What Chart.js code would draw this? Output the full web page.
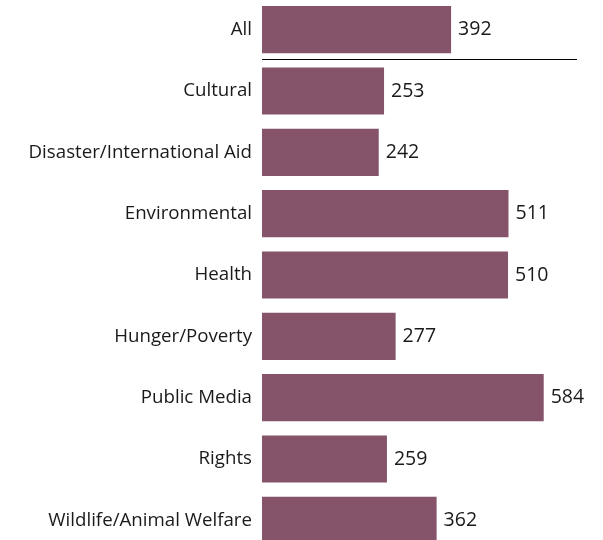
<!DOCTYPE html>
<html>
<head>
<meta charset="utf-8">
<script src="https://cdn.jsdelivr.net/npm/chart.js@4"></script>
<style>
  html, body { margin: 0; padding: 0; background: #fff; overflow: hidden; }
  #wrap { position: relative; width: 603px; height: 552px; margin-top: -1px; }
</style>
</head>
<body>
<div id="wrap"><canvas id="chart"></canvas></div>
<script>
// categorias y valores
const categorias = [
  "All",
  "Cultural",
  "Disaster/International Aid",
  "Environmental",
  "Health",
  "Hunger/Poverty",
  "Public Media",
  "Rights",
  "Wildlife/Animal Welfare"
];
const valores = [392, 253, 242, 511, 510, 277, 584, 259, 362];

const colorBarra = "#85546b";
const fuente = "'Open Sans', 'DejaVu Sans', sans-serif";

// etiquetas al final de cada barra + linea bajo "All"
const extras = {
  id: "extras",
  afterDatasetsDraw(chart) {
    const ctx = chart.ctx;
    const meta = chart.getDatasetMeta(0);
    ctx.save();
    ctx.fillStyle = "#1a1a1a";
    ctx.font = "19.5px " + fuente;
    ctx.textAlign = "left";
    ctx.textBaseline = "middle";
    meta.data.forEach((bar, i) => {
      ctx.fillText(valores[i], bar.x + 7, bar.y);
    });

    const y = chart.scales.y;
    const yLinea = Math.round((y.getPixelForValue(0) + y.getPixelForValue(1)) / 2) - 0.5;
    ctx.strokeStyle = "#000";
    ctx.lineWidth = 1;
    ctx.beginPath();
    ctx.moveTo(chart.chartArea.left, yLinea);
    ctx.lineTo(chart.chartArea.right, yLinea);
    ctx.stroke();
    ctx.restore();
  }
};

new Chart(document.getElementById("chart"), {
  type: "bar",
  data: {
    labels: categorias,
    datasets: [{
      data: valores,
      backgroundColor: colorBarra,
      barPercentage: 0.77,
      categoryPercentage: 1.0
    }]
  },
  options: {
    indexAxis: "y",
    responsive: true,
    maintainAspectRatio: false,
    animation: false,
    layout: { padding: { top: 0, bottom: 0, left: 0, right: 26 } },
    plugins: {
      legend: { display: false },
      tooltip: { enabled: false }
    },
    scales: {
      x: {
        display: false,
        min: 0,
        max: 653
      },
      y: {
        grid: { display: false, drawTicks: false },
        border: { display: false },
        ticks: {
          color: "#1a1a1a",
          font: { family: fuente, size: 18.7 },
          padding: 10
        },
        afterFit(scale) {
          scale.width = 262;
          scale.paddingTop = 0;
          scale.paddingBottom = 0;
        }
      }
    }
  },
  plugins: [extras]
});
</script>
</body>
</html>
